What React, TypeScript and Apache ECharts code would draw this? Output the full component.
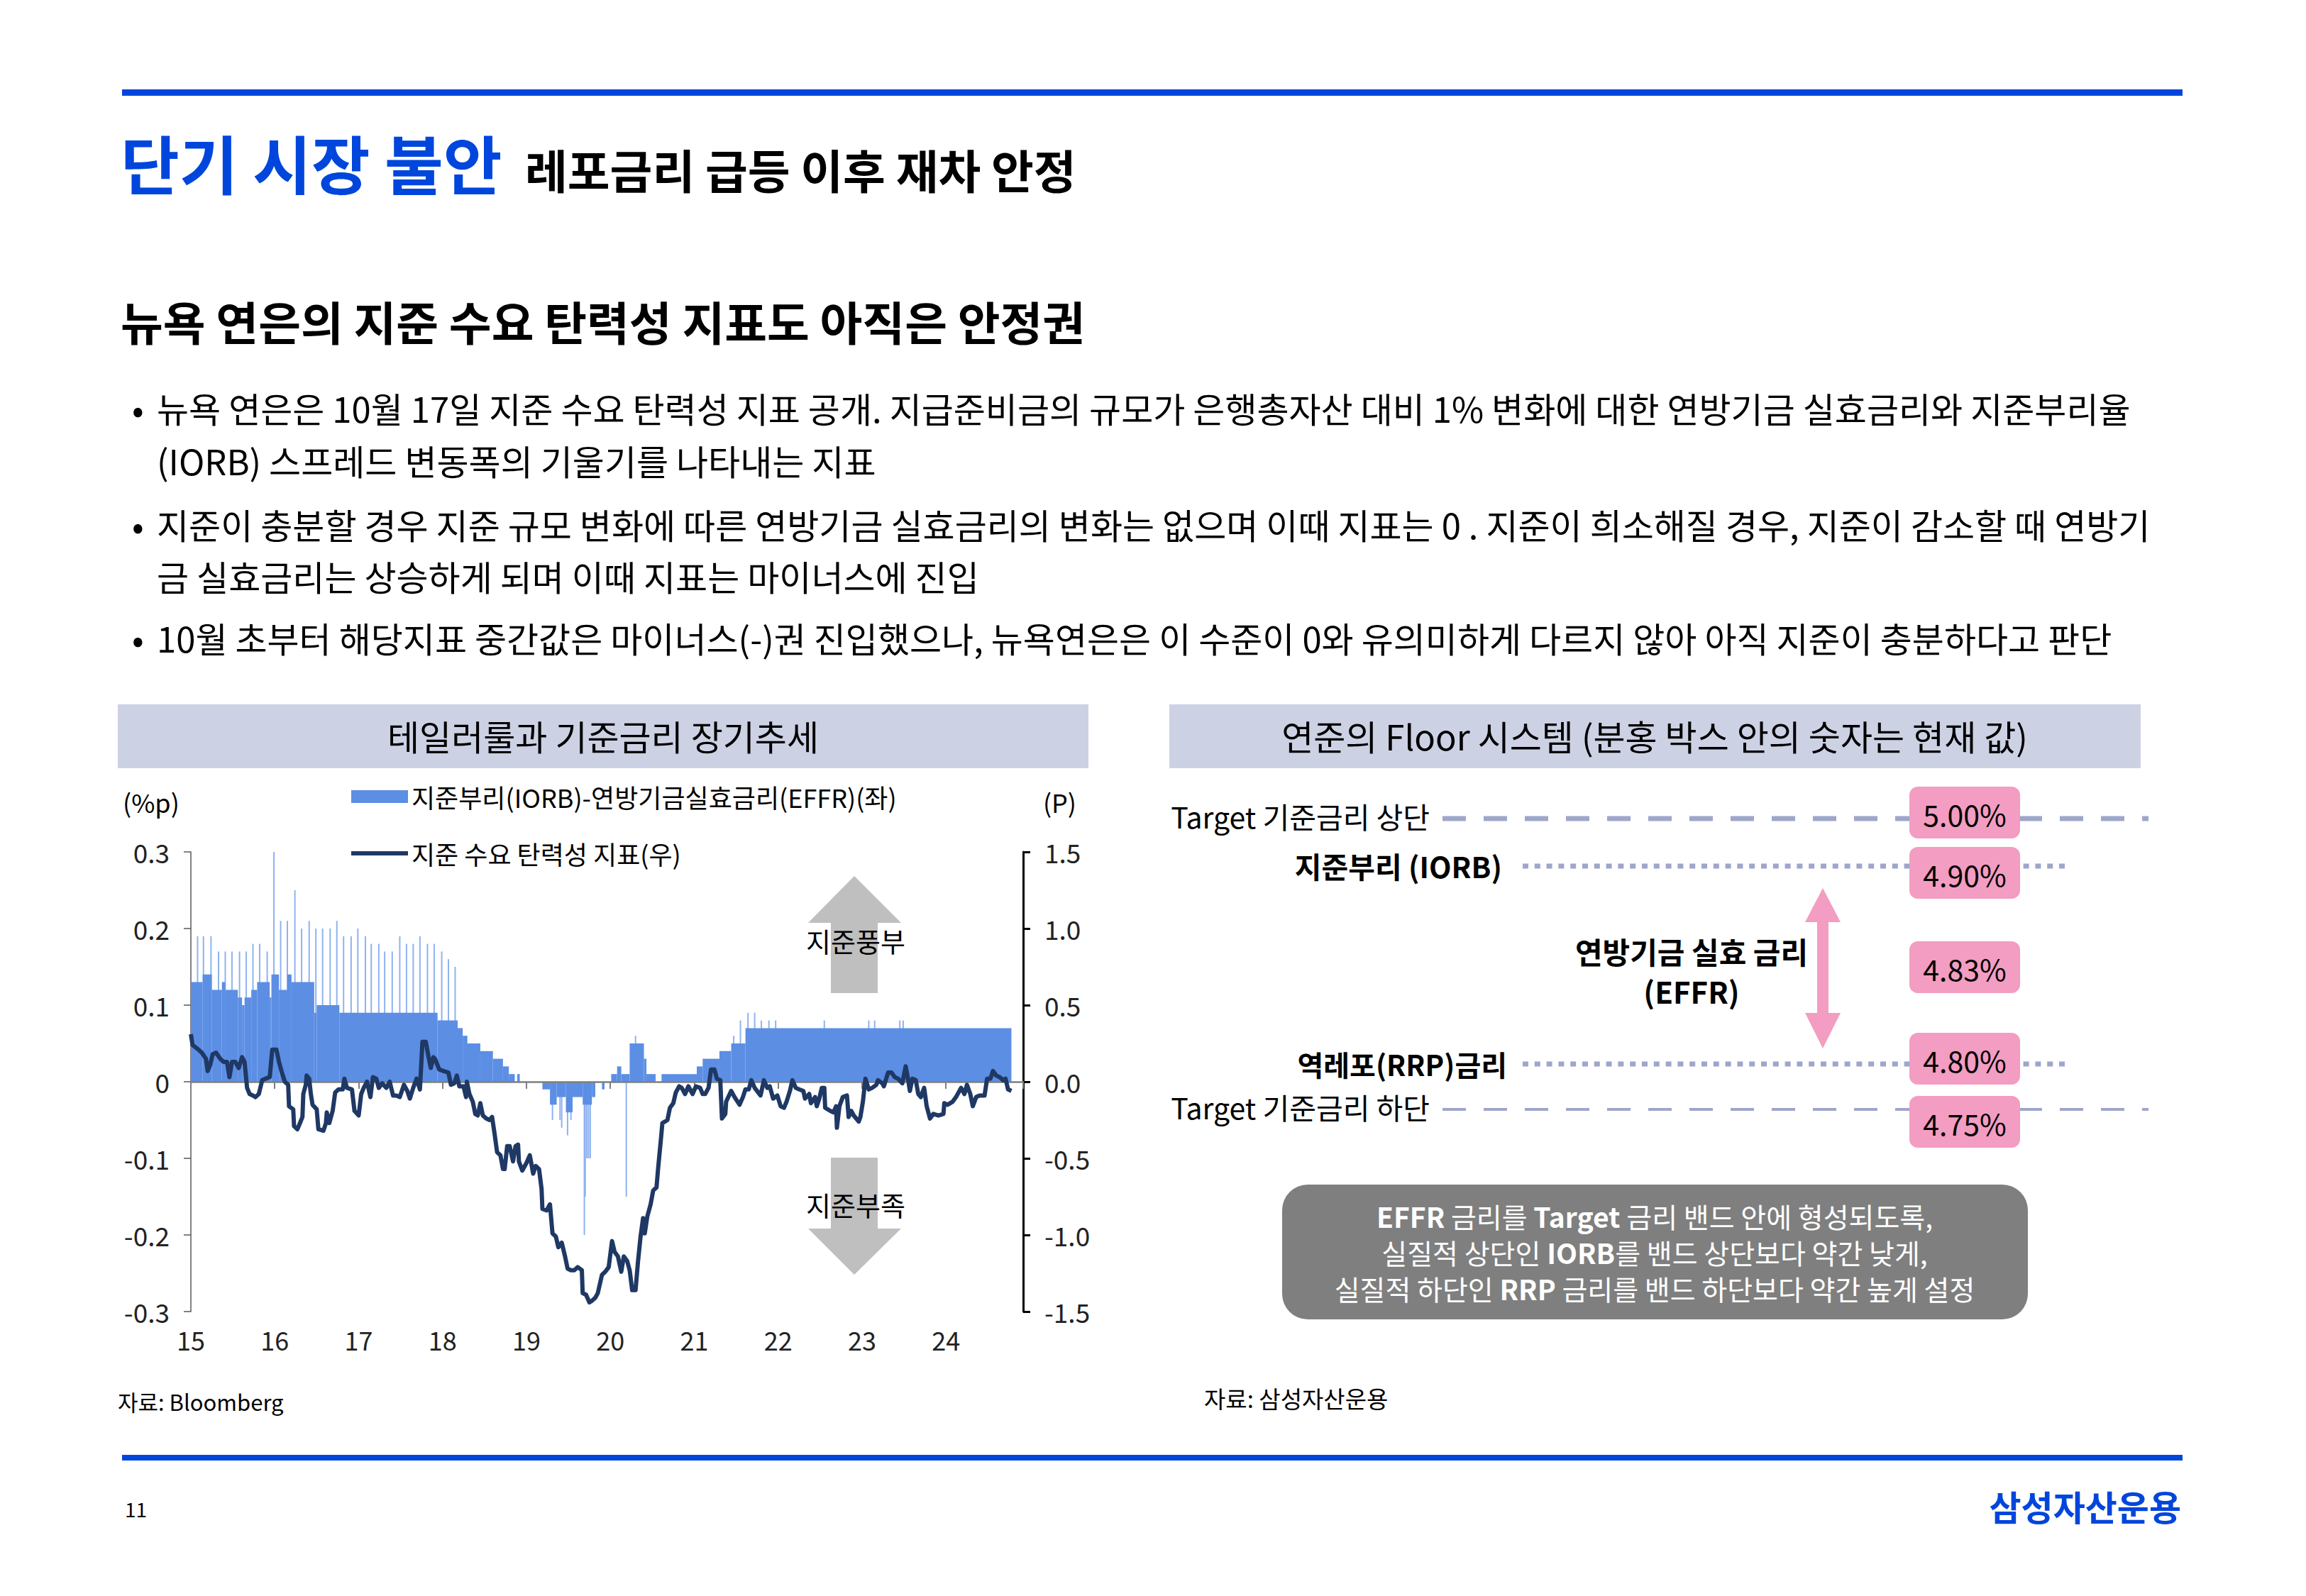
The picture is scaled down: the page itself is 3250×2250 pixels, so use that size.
import React, { useEffect, useRef } from 'react';
import * as echarts from 'echarts';

const FONT = '"Noto Sans CJK KR", "Noto Sans", sans-serif';
const BLUE = '#0046DC';
const BAR_COLOR = '#5C8EE4';
const SPIKE_COLOR = '#8FB2F0';
const LINE_COLOR = '#1F3864';
const BAND_COLOR = '#CDD1E4';
const PINK = '#F29DC1';
const DASH_COLOR = '#9EA6CA';

// ---------- data (left chart) ----------
const barSeriesName = '지준부리(IORB)-연방기금실효금리(EFFR)(좌)';
const lineSeriesName = '지준 수요 탄력성 지표(우)';

// [start year, end year, IORB-EFFR spread (%p)]
const spreadSteps: [number, number, number][] = [
  [2015.00, 2015.14, 0.13], [2015.14, 2015.25, 0.14], [2015.25, 2015.37, 0.12], [2015.37, 2015.41, 0.13],
  [2015.41, 2015.56, 0.12], [2015.56, 2015.61, 0.11], [2015.61, 2015.64, 0.10], [2015.64, 2015.72, 0.11],
  [2015.72, 2015.79, 0.12], [2015.79, 2015.94, 0.13], [2015.94, 2015.96, 0.11], [2015.96, 2016.05, 0.14],
  [2016.05, 2016.15, 0.12], [2016.15, 2016.20, 0.14], [2016.20, 2016.47, 0.13], [2016.47, 2016.50, 0.09],
  [2016.50, 2016.77, 0.10], [2016.77, 2017.94, 0.09], [2017.94, 2018.18, 0.08], [2018.18, 2018.24, 0.07],
  [2018.24, 2018.29, 0.06], [2018.29, 2018.45, 0.05], [2018.45, 2018.60, 0.04], [2018.60, 2018.72, 0.03],
  [2018.72, 2018.79, 0.02], [2018.79, 2018.86, 0.01], [2018.89, 2018.92, 0.01],
  [2019.19, 2019.28, -0.01], [2019.28, 2019.36, -0.03], [2019.36, 2019.47, -0.02], [2019.47, 2019.55, -0.04],
  [2019.55, 2019.67, -0.02], [2019.67, 2019.78, -0.03], [2019.78, 2019.82, -0.02], [2019.90, 2019.93, -0.01],
  [2020.01, 2020.08, 0.01], [2020.08, 2020.13, 0.02], [2020.13, 2020.23, 0.01], [2020.23, 2020.40, 0.05],
  [2020.40, 2020.43, 0.03], [2020.43, 2020.54, 0.01], [2020.61, 2021.03, 0.01], [2021.03, 2021.10, 0.02],
  [2021.10, 2021.30, 0.03], [2021.30, 2021.44, 0.04], [2021.44, 2021.61, 0.05], [2021.61, 2024.78, 0.07],
];

// single-day spikes [year, spread]
const spreadSpikes: [number, number][] = [
  [2015.08, 0.19], [2015.15, 0.19], [2015.24, 0.19], [2015.33, 0.17], [2015.41, 0.17], [2015.49, 0.17],
  [2015.58, 0.17], [2015.66, 0.17], [2015.74, 0.18], [2015.82, 0.18], [2015.91, 0.17], [2015.99, 0.30],
  [2016.07, 0.21], [2016.15, 0.21], [2016.24, 0.25], [2016.32, 0.20], [2016.41, 0.21], [2016.49, 0.20],
  [2016.57, 0.20], [2016.66, 0.20], [2016.74, 0.21], [2016.82, 0.19], [2016.91, 0.19], [2016.99, 0.20],
  [2017.08, 0.19], [2017.15, 0.18], [2017.24, 0.18], [2017.31, 0.17], [2017.40, 0.17], [2017.49, 0.19],
  [2017.57, 0.18], [2017.65, 0.18], [2017.73, 0.19], [2017.82, 0.18], [2017.90, 0.18], [2017.99, 0.17],
  [2018.07, 0.16], [2018.15, 0.15], [2018.29, 0.06],
  [2019.31, -0.05], [2019.40, -0.05], [2019.42, -0.06], [2019.49, -0.07], [2019.53, -0.05],
  [2019.69, -0.20], [2019.70, -0.15], [2019.72, -0.10], [2019.74, -0.10], [2019.76, -0.10],
  [2020.19, -0.15], [2020.30, 0.06],
  [2021.47, 0.06], [2021.55, 0.08], [2021.64, 0.09], [2021.72, 0.09], [2021.80, 0.08], [2021.89, 0.08],
  [2021.97, 0.08], [2022.55, 0.08], [2023.08, 0.08], [2023.15, 0.08], [2023.45, 0.08], [2023.49, 0.08],
];

// reserve demand elasticity indicator (right axis) [year, value]
const elasticity2015to2018: [number, number][] = [
  [2015.00, 0.31], [2015.02, 0.24], [2015.09, 0.21], [2015.13, 0.19], [2015.18, 0.15], [2015.20, 0.07],
  [2015.23, 0.11], [2015.26, 0.18], [2015.30, 0.19], [2015.35, 0.15], [2015.39, 0.13], [2015.43, 0.13],
  [2015.46, 0.03], [2015.49, 0.13], [2015.53, 0.13], [2015.57, 0.09], [2015.61, 0.16], [2015.64, 0.13],
  [2015.67, -0.04], [2015.70, -0.08], [2015.74, -0.09], [2015.77, -0.10], [2015.81, -0.08], [2015.85, 0.01],
  [2015.89, 0.02], [2015.94, 0.03], [2015.97, 0.21], [2016.02, 0.21], [2016.05, 0.13], [2016.08, 0.07],
  [2016.12, 0.00], [2016.16, -0.02], [2016.17, -0.16], [2016.22, -0.18], [2016.23, -0.29], [2016.27, -0.31],
  [2016.30, -0.27], [2016.33, -0.23], [2016.34, -0.08], [2016.37, -0.02], [2016.38, 0.04], [2016.41, 0.02],
  [2016.43, -0.08], [2016.45, -0.15], [2016.50, -0.18], [2016.52, -0.31], [2016.58, -0.32], [2016.61, -0.27],
  [2016.62, -0.20], [2016.65, -0.27], [2016.69, -0.19], [2016.72, -0.07], [2016.76, -0.05], [2016.81, -0.05],
  [2016.83, 0.02], [2016.86, -0.04], [2016.92, -0.05], [2016.95, -0.19], [2017.00, -0.22], [2017.03, -0.08],
  [2017.06, -0.04], [2017.10, 0.00], [2017.14, -0.10], [2017.17, 0.03], [2017.21, 0.02], [2017.24, -0.04],
  [2017.28, -0.01], [2017.33, -0.04], [2017.37, 0.00], [2017.41, -0.09], [2017.45, -0.09], [2017.49, -0.10],
  [2017.54, -0.02], [2017.58, -0.06], [2017.61, -0.11], [2017.65, -0.04], [2017.69, 0.02], [2017.73, -0.05],
  [2017.76, 0.26], [2017.80, 0.26], [2017.83, 0.17], [2017.86, 0.09], [2017.89, 0.16], [2017.91, 0.15],
  [2017.96, 0.08], [2018.01, 0.07], [2018.07, 0.06], [2018.10, -0.02], [2018.14, -0.01], [2018.17, 0.04],
  [2018.20, -0.03], [2018.25, -0.03], [2018.28, -0.10],
];
const elasticity2018to2021: [number, number][] = [
  [2018.29, 0.00], [2018.32, -0.08], [2018.36, -0.13], [2018.39, -0.21], [2018.42, -0.22], [2018.45, -0.14],
  [2018.48, -0.22], [2018.52, -0.24], [2018.56, -0.25], [2018.59, -0.23], [2018.62, -0.34], [2018.65, -0.46],
  [2018.69, -0.48], [2018.72, -0.57], [2018.74, -0.57], [2018.77, -0.42], [2018.80, -0.42], [2018.84, -0.52],
  [2018.87, -0.42], [2018.90, -0.41], [2018.91, -0.52], [2018.95, -0.58], [2019.00, -0.53], [2019.04, -0.48],
  [2019.08, -0.60], [2019.11, -0.55], [2019.15, -0.57], [2019.18, -0.70], [2019.19, -0.83], [2019.24, -0.84],
  [2019.28, -0.80], [2019.31, -0.99], [2019.35, -1.01], [2019.38, -1.08], [2019.42, -1.05], [2019.46, -1.14],
  [2019.49, -1.22], [2019.53, -1.23], [2019.57, -1.23], [2019.61, -1.21], [2019.66, -1.23], [2019.67, -1.38],
  [2019.71, -1.39], [2019.75, -1.44], [2019.78, -1.43], [2019.82, -1.41], [2019.85, -1.38], [2019.90, -1.26],
  [2019.94, -1.24], [2019.98, -1.21], [2020.02, -1.04], [2020.05, -1.11], [2020.09, -1.14], [2020.13, -1.24],
  [2020.16, -1.14], [2020.20, -1.17], [2020.23, -1.23], [2020.26, -1.36], [2020.30, -1.36], [2020.33, -1.17],
  [2020.36, -1.01], [2020.39, -0.89], [2020.41, -0.99], [2020.44, -0.88], [2020.48, -0.80], [2020.51, -0.71],
  [2020.55, -0.69], [2020.57, -0.56], [2020.60, -0.39], [2020.62, -0.27], [2020.68, -0.25], [2020.71, -0.17],
  [2020.75, -0.14], [2020.78, -0.07], [2020.82, -0.03], [2020.85, -0.04], [2020.89, -0.08], [2020.93, -0.03],
  [2020.98, -0.08], [2021.02, -0.03], [2021.07, -0.04], [2021.10, -0.08], [2021.13, -0.08], [2021.17, -0.04],
  [2021.20, 0.08], [2021.24, 0.08], [2021.27, 0.02], [2021.31, 0.01], [2021.33, -0.24], [2021.37, -0.21],
  [2021.38, -0.13], [2021.44, -0.06], [2021.48, -0.10], [2021.54, -0.15], [2021.58, -0.10], [2021.61, -0.05],
  [2021.65, -0.05], [2021.68, 0.01], [2021.72, -0.04], [2021.79, -0.09],
];
const elasticity2021to2024: [number, number][] = [
  [2021.83, 0.01], [2021.87, -0.04], [2021.90, -0.03], [2021.94, -0.11], [2021.99, -0.09], [2022.03, -0.16],
  [2022.07, -0.17], [2022.10, -0.13], [2022.14, -0.06], [2022.17, 0.01], [2022.21, -0.04], [2022.25, -0.05],
  [2022.30, -0.06], [2022.32, -0.11], [2022.37, -0.08], [2022.39, -0.14], [2022.44, -0.10], [2022.46, -0.16],
  [2022.49, -0.11], [2022.52, -0.04], [2022.55, -0.04], [2022.56, -0.17], [2022.62, -0.19], [2022.66, -0.20],
  [2022.69, -0.16], [2022.70, -0.30], [2022.73, -0.16], [2022.77, -0.10], [2022.82, -0.09], [2022.84, -0.23],
  [2022.87, -0.19], [2022.90, -0.22], [2022.96, -0.26], [2022.98, -0.23], [2023.01, -0.13], [2023.04, 0.02],
  [2023.08, -0.05], [2023.12, -0.04], [2023.17, -0.02], [2023.19, 0.01], [2023.24, -0.01], [2023.26, -0.03],
  [2023.31, 0.06], [2023.35, 0.06], [2023.39, 0.03], [2023.43, 0.02], [2023.48, -0.01], [2023.52, 0.10],
  [2023.55, 0.01], [2023.57, -0.06], [2023.60, 0.02], [2023.64, 0.01], [2023.67, -0.08], [2023.70, -0.10],
  [2023.74, -0.04], [2023.77, -0.16], [2023.81, -0.24], [2023.85, -0.21], [2023.91, -0.22], [2023.97, -0.21],
  [2023.98, -0.14], [2024.02, -0.15], [2024.08, -0.13], [2024.12, -0.10], [2024.18, -0.04], [2024.22, -0.08],
  [2024.25, -0.02], [2024.29, -0.08], [2024.32, -0.16], [2024.36, -0.10], [2024.40, -0.09], [2024.46, -0.09],
  [2024.49, 0.02], [2024.53, 0.02], [2024.56, 0.07], [2024.60, 0.04], [2024.64, 0.03], [2024.68, 0.01],
  [2024.71, 0.02], [2024.74, -0.05], [2024.78, -0.06],
];

// ---------- data (right diagram) ----------
const floorLabels = ['Target 기준금리 상단', '지준부리 (IORB)', '연방기금 실효 금리', '(EFFR)', '역레포(RRP)금리', 'Target 기준금리 하단'];
const floorValues = ['5.00%', '4.90%', '4.83%', '4.80%', '4.75%'];

// ---------- texts ----------
const mainTitle = '단기 시장 불안';
const mainTitleSub = '레포금리 급등 이후 재차 안정';
const subTitle = '뉴욕 연은의 지준 수요 탄력성 지표도 아직은 안정권';
const bulletLines = [
  '뉴욕 연은은 10월 17일 지준 수요 탄력성 지표 공개. 지급준비금의 규모가 은행총자산 대비 1% 변화에 대한 연방기금 실효금리와 지준부리율',
  '(IORB) 스프레드 변동폭의 기울기를 나타내는 지표',
  '지준이 충분할 경우 지준 규모 변화에 따른 연방기금 실효금리의 변화는 없으며 이때 지표는 0 . 지준이 희소해질 경우, 지준이 감소할 때 연방기',
  '금 실효금리는 상승하게 되며 이때 지표는 마이너스에 진입',
  '10월 초부터 해당지표 중간값은 마이너스(-)권 진입했으나, 뉴욕연은은 이 수준이 0와 유의미하게 다르지 않아 아직 지준이 충분하다고 판단',
];
const bulletStarts = [true, false, true, false, true];
const noteLines = [
  '{b|EFFR} 금리를 {b|Target} 금리 밴드 안에 형성되도록,',
  '실질적 상단인 {b|IORB}를 밴드 상단보다 약간 낮게,',
  '실질적 하단인 {b|RRP} 금리를 밴드 하단보다 약간 높게 설정',
];

const txt = (x: number, y: number, text: string, size: number, opts: any = {}) => ({
  type: 'text',
  x,
  y,
  z: opts.z ?? 10,
  style: {
    text,
    fontSize: size,
    lineHeight: opts.lineHeight,
    fontFamily: FONT,
    fontWeight: opts.bold ? 'bold' : 'normal',
    fill: opts.color ?? '#000',
    textAlign: opts.align ?? 'left',
    textVerticalAlign: 'middle',
    rich: opts.rich,
  },
});

function buildGraphics(): any[] {
  const g: any[] = [];
  // top & bottom rules
  g.push({ type: 'rect', shape: { x: 172, y: 126, width: 2904, height: 9 }, style: { fill: BLUE } });
  g.push({ type: 'rect', shape: { x: 172, y: 2051, width: 2904, height: 8 }, style: { fill: BLUE } });
  // titles
  g.push(txt(170, 228, mainTitle, 90, { bold: true, color: BLUE }));
  g.push(txt(740, 238, mainTitleSub, 65, { bold: true }));
  g.push(txt(170, 452, subTitle, 65, { bold: true }));
  const bulletY = [574, 648, 738, 811, 898];
  bulletLines.forEach((line, i) => {
    if (bulletStarts[i]) g.push(txt(186, bulletY[i], '•', 49));
    g.push(txt(221, bulletY[i], line, 49));
  });
  // header bands
  g.push({ type: 'rect', shape: { x: 166, y: 993, width: 1368, height: 90 }, style: { fill: BAND_COLOR } });
  g.push({ type: 'rect', shape: { x: 1648, y: 993, width: 1369, height: 90 }, style: { fill: BAND_COLOR } });
  g.push(txt(850, 1036, '테일러룰과 기준금리 장기추세', 49, { align: 'center' }));
  g.push(txt(2332, 1036, '연준의 Floor 시스템 (분홍 박스 안의 숫자는 현재 값)', 49, { align: 'center' }));
  // axis units
  g.push(txt(173, 1130, '(%p)', 36));
  g.push(txt(1517, 1130, '(P)', 36, { align: 'right' }));
  // grey arrows
  g.push({
    type: 'polygon', z: 1,
    shape: { points: [[1204, 1235], [1270, 1301], [1237, 1301], [1237, 1400], [1171, 1400], [1171, 1301], [1139, 1301]] },
    style: { fill: '#BFBFBF' },
  });
  g.push({
    type: 'polygon', z: 1,
    shape: { points: [[1171, 1632], [1237, 1632], [1237, 1732], [1270, 1732], [1204, 1797], [1139, 1732], [1171, 1732]] },
    style: { fill: '#BFBFBF' },
  });
  g.push(txt(1206, 1325, '지준풍부', 38, { align: 'center' }));
  g.push(txt(1206, 1697, '지준부족', 38, { align: 'center' }));
  // sources & footer
  g.push(txt(166, 1975, '자료: Bloomberg', 31));
  g.push(txt(1697, 1971, '자료: 삼성자산운용', 33));
  g.push(txt(176, 2127, '11', 28));
  g.push(txt(3074, 2122, '삼성자산운용', 49, { bold: true, color: BLUE, align: 'right' }));

  // ----- right diagram -----
  g.push({ type: 'line', z: 1, shape: { x1: 2033, y1: 1154, x2: 3028, y2: 1154 }, style: { stroke: DASH_COLOR, lineWidth: 7, lineDash: [33, 25] } });
  g.push({ type: 'line', z: 1, shape: { x1: 2033, y1: 1564, x2: 3028, y2: 1564 }, style: { stroke: DASH_COLOR, lineWidth: 4, lineDash: [33, 25] } });
  g.push({ type: 'line', z: 1, shape: { x1: 2146, y1: 1221, x2: 2912, y2: 1221 }, style: { stroke: DASH_COLOR, lineWidth: 7, lineDash: [8, 8.8] } });
  g.push({ type: 'line', z: 1, shape: { x1: 2146, y1: 1500, x2: 2912, y2: 1500 }, style: { stroke: DASH_COLOR, lineWidth: 7, lineDash: [8, 8.8] } });
  g.push(txt(2015, 1150, floorLabels[0], 41, { align: 'right' }));
  g.push(txt(2117, 1220, floorLabels[1], 41, { align: 'right', bold: true }));
  g.push(txt(2384, 1340, floorLabels[2], 42, { align: 'center', bold: true }));
  g.push(txt(2384, 1396, floorLabels[3], 42, { align: 'center', bold: true }));
  g.push(txt(2124, 1500, floorLabels[4], 40, { align: 'right', bold: true }));
  g.push(txt(2015, 1560, floorLabels[5], 41, { align: 'right' }));
  // pink double arrow
  g.push({
    type: 'polygon', z: 2,
    shape: { points: [[2569, 1252], [2594, 1300], [2577, 1300], [2577, 1428], [2594, 1428], [2569, 1478], [2544, 1428], [2561, 1428], [2561, 1300], [2544, 1300]] },
    style: { fill: PINK },
  });
  const boxTops = [1109, 1194, 1327, 1456, 1545];
  floorValues.forEach((v, i) => {
    g.push({ type: 'rect', z: 3, shape: { x: 2691, y: boxTops[i], width: 156, height: 73, r: 12 }, style: { fill: PINK } });
    g.push(txt(2769, boxTops[i] + 38, v, 41, { align: 'center', z: 4 }));
  });
  // grey note box
  g.push({ type: 'rect', z: 3, shape: { x: 1807, y: 1670, width: 1051, height: 190, r: 36 }, style: { fill: '#7F7F7F' } });
  const noteY = [1714, 1765, 1816];
  noteLines.forEach((line, i) => {
    g.push(txt(2332, noteY[i], line, 39, {
      align: 'center', color: '#FFFFFF', z: 4, lineHeight: 40,
      rich: { b: { fontWeight: 'bold', fontSize: 39, lineHeight: 40, fontFamily: FONT, fill: '#FFFFFF' } },
    }));
  });
  return g;
}

export default function App() {
  const ref = useRef<HTMLDivElement>(null);
  useEffect(() => {
    if (!ref.current) return;
    const chart = echarts.init(ref.current, undefined, { renderer: 'svg' });
    const axisFont = { fontFamily: FONT, fontSize: 37, color: '#222' };
    const option: any = {
      animation: false,
      backgroundColor: '#FFFFFF',
      textStyle: { fontFamily: FONT },
      grid: { left: 269, top: 1201, width: 1173, height: 648 },
      legend: [
        {
          data: [{ name: barSeriesName, icon: 'rect', itemStyle: { color: BAR_COLOR } }],
          left: 495, top: 1103, padding: 0, itemWidth: 80, itemHeight: 18, selectedMode: false,
          textStyle: { fontFamily: FONT, fontSize: 36, lineHeight: 40, color: '#000' },
        },
        {
          data: [{ name: lineSeriesName, icon: 'rect', itemStyle: { color: LINE_COLOR } }],
          left: 495, top: 1183, padding: 0, itemWidth: 80, itemHeight: 6, selectedMode: false,
          lineStyle: { width: 6, color: LINE_COLOR, cap: 'round' },
          textStyle: { fontFamily: FONT, fontSize: 36, lineHeight: 40, color: '#000' },
        },
      ],
      xAxis: [
        {
          type: 'value', min: 2015, max: 2024.92, interval: 1, position: 'bottom',
          axisLine: { show: false, onZero: false }, axisTick: { show: false }, splitLine: { show: false },
          axisLabel: {
            ...axisFont, fontSize: 36, margin: 21, showMaxLabel: false,
            formatter: (v: number) => (Math.abs(v - Math.round(v)) < 1e-6 && v < 2024.5 ? String(Math.round(v)).slice(2) : ''),
          },
        },
        {
          type: 'value', min: 2015, max: 2024.92, interval: 1, position: 'bottom', z: 3,
          axisLine: { show: true, onZero: true, lineStyle: { color: '#7F7F7F', width: 2.5 } },
          axisTick: { show: true, length: 10, lineStyle: { color: '#7F7F7F', width: 2 } },
          axisLabel: { show: false }, splitLine: { show: false },
        },
      ],
      yAxis: [
        {
          type: 'value', min: -0.3, max: 0.3, interval: 0.1, position: 'left',
          axisLine: { show: true, lineStyle: { color: '#595959', width: 1.5 } },
          axisTick: { show: true, length: 10, lineStyle: { color: '#595959', width: 1.5 } },
          splitLine: { show: false },
          axisLabel: {
            ...axisFont, margin: 30,
            formatter: (v: number) => { const r = Math.round(v * 10) / 10; return r === 0 ? '0' : r.toFixed(1); },
          },
        },
        {
          type: 'value', min: -1.5, max: 1.5, interval: 0.5, position: 'right',
          axisLine: { show: true, lineStyle: { color: '#000', width: 3 } },
          axisTick: { show: true, length: 10, lineStyle: { color: '#000', width: 3 } },
          splitLine: { show: false },
          axisLabel: {
            ...axisFont, margin: 30,
            formatter: (v: number) => (Math.round(v * 10) / 10).toFixed(1),
          },
        },
      ],
      series: [
        {
          name: barSeriesName,
          type: 'custom',
          xAxisIndex: 0,
          yAxisIndex: 0,
          z: 2,
          itemStyle: { color: BAR_COLOR },
          encode: { x: [0, 1], y: 2 },
          data: spreadSteps,
          renderItem: (params: any, api: any) => {
            const s = api.coord([api.value(0), api.value(2)]);
            const e = api.coord([api.value(1), 0]);
            return {
              type: 'rect',
              shape: { x: s[0], y: Math.min(s[1], e[1]), width: Math.max(e[0] - s[0], 1), height: Math.abs(e[1] - s[1]) },
              style: { fill: BAR_COLOR },
            };
          },
        },
        {
          name: barSeriesName,
          type: 'bar',
          xAxisIndex: 0,
          yAxisIndex: 0,
          z: 1,
          barWidth: 2,
          itemStyle: { color: SPIKE_COLOR },
          data: spreadSpikes,
        },
        {
          name: lineSeriesName,
          type: 'line',
          xAxisIndex: 0,
          yAxisIndex: 1,
          z: 5,
          symbol: 'none',
          showSymbol: false,
          itemStyle: { color: LINE_COLOR },
          lineStyle: { color: LINE_COLOR, width: 6, join: 'round' },
          data: [...elasticity2015to2018, ...elasticity2018to2021, ...elasticity2021to2024],
        },
      ],
      graphic: { elements: buildGraphics() },
    };
    chart.setOption(option);
    return () => chart.dispose();
  }, []);
  return <div ref={ref} style={{ position: 'absolute', left: 0, top: 0, width: 3250, height: 2250, background: '#fff' }} />;
}
